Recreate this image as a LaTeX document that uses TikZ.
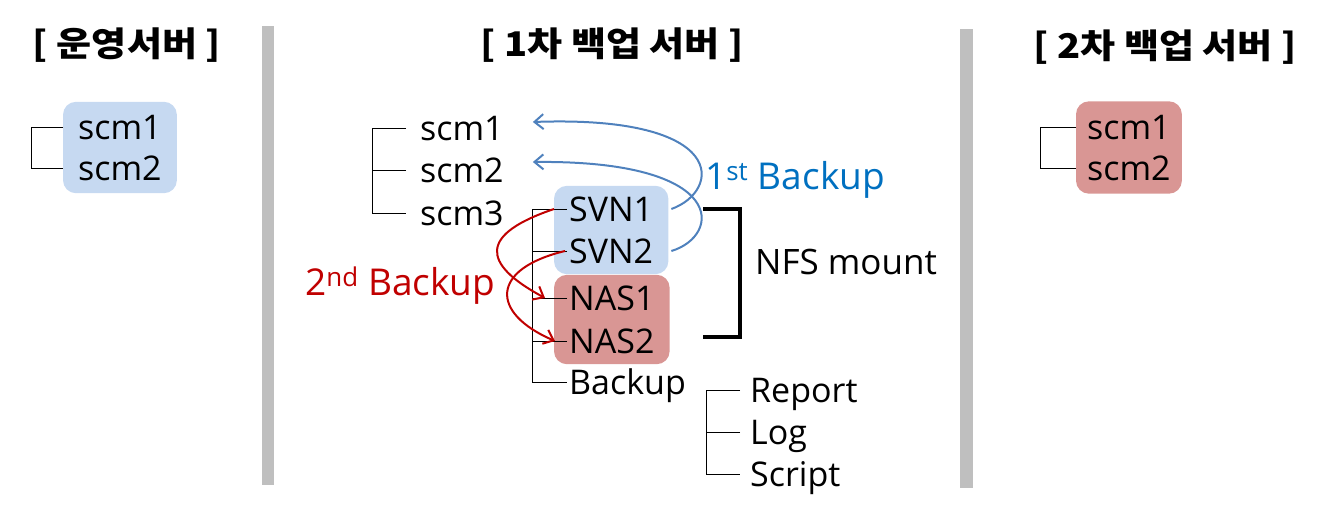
\documentclass[tikz,border=0pt]{standalone}
\usepackage{fontspec}
\setmainfont{Open Sans}
\newfontfamily\kofont[FakeStretch=1.12]{Noto Sans CJK KR}
\usetikzlibrary{arrows.meta,fit,backgrounds}
\definecolor{svnblue}{RGB}{198,217,241}
\definecolor{nasred}{RGB}{217,150,148}
\definecolor{arrowblue}{RGB}{79,129,189}
\definecolor{textblue}{RGB}{0,112,192}
\definecolor{darkred}{RGB}{192,0,0}
\definecolor{bargray}{RGB}{191,191,191}

\begin{document}
\begin{tikzpicture}[x=1pt,y=-1pt,line join=miter,
  hdr/.style={font=\kofont\fontsize{34}{40}\selectfont\bfseries, inner sep=0pt},
  leaf/.style={font=\fontsize{34}{40}\selectfont, anchor=west, inner ysep=0pt, inner xsep=14pt, text height=24pt, text depth=0pt},
  lbl/.style={anchor=west, inner sep=0pt, font=\fontsize{37}{44}\selectfont},
  tree/.style={line width=1pt},
  bluebox/.style={fill=svnblue, rounded corners=13pt, inner xsep=0pt, inner ysep=13pt},
  redbox/.style={fill=nasred, rounded corners=13pt, inner xsep=0pt, inner ysep=13pt},
  bak1/.style={draw=arrowblue, line width=2pt, -{Straight Barb[length=9pt,width=15pt]}},
  bak2/.style={draw=darkred, line width=2pt, -{Straight Barb[length=9pt,width=15pt]}},
  brk/.style={line width=3.5pt}]
\useasboundingbox (0,0) rectangle (1335,515);

% titles
\node[hdr] (hdrA) at (127,45) {[ 운영서버 ]};
\node[hdr] (hdrB) at (612,45) {[ 1차 백업 서버 ]};
\node[hdr] (hdrC) at (1165,47) {[ 2차 백업 서버 ]};

% separators
\fill[bargray] (262,26) rectangle (274,485);
\fill[bargray] (960,29) rectangle (973,488);

% operating server
\node[leaf, inner xsep=15pt] (a1) at (63,127) {scm1};
\node[leaf, inner xsep=15pt] (a2) at (63,168) {scm2};
\coordinate (ta) at ([xshift=-32pt]a1.west);
\draw[tree] (a1.west) -- (ta) |- (a2.west);

% 1st backup server
\node[leaf] (b1) at (406,128) {scm1};
\node[leaf] (b2) at (406,170) {scm2};
\node[leaf] (b3) at (406,213) {scm3};
\coordinate (tb) at ([xshift=-34pt]b1.west);
\draw[tree] (b1.west) -- (tb) |- (b3.west);
\draw[tree] (b2.west) -- (tb |- b2.west);

\node[leaf, inner xsep=2pt] (s1) at (567,209) {SVN1};
\node[leaf, inner xsep=2pt] (s2) at (567,251) {SVN2};
\node[leaf, inner xsep=2pt] (n1) at (567,298) {NAS1};
\node[leaf, inner xsep=2pt] (n2) at (567,341) {NAS2};
\node[leaf, inner xsep=2pt] (bk) at (567,382) {Backup};
\coordinate (tc) at ([xshift=-35pt]s1.west);
\draw[tree] (s1.west) -- (tc) |- (bk.west);
\foreach \n in {s2,n1,n2}
  \draw[tree] (\n.west) -- (tc |- \n.west);

\node[leaf, inner xsep=10pt] (r1) at (740,390) {Report};
\node[leaf, inner xsep=10pt] (r2) at (740,432) {Log};
\node[leaf, inner xsep=10pt] (r3) at (740,474) {Script};
\coordinate (td) at ([xshift=-34pt]r1.west);
\draw[tree] (r1.west) -- (td) |- (r3.west);
\draw[tree] (r2.west) -- (td |- r2.west);

% 2nd backup server
\node[leaf, inner xsep=11pt] (c1) at (1076,127) {scm1};
\node[leaf, inner xsep=11pt] (c2) at (1076,168) {scm2};
\coordinate (te) at ([xshift=-36pt]c1.west);
\draw[tree] (c1.west) -- (te) |- (c2.west);

% boxes
\begin{scope}[on background layer]
\node[bluebox, fit=(a1)(a2)] (opbox) {};
\node[bluebox, inner xsep=13pt, inner ysep=11pt, fit=(s1)(s2)] (svnbox) {};
\node[redbox, inner xsep=13pt, inner ysep=11pt, fit=(n1)(n2)] (nasbox) {};
\node[redbox, inner ysep=13.5pt, fit=(c1)(c2)] (bkbox) {};
\end{scope}

% NFS mount
\coordinate (bt) at (703,209);
\coordinate (bb) at (703,337);
\draw[brk] (bt) -- ++(37,0) |- (bb);
\node[lbl, font=\fontsize{35}{42}\selectfont] (nfs) at (755,262) {NFS mount};

% backup flows
\node[lbl, text=textblue] (first) at (705,180) {1\textsuperscript{st} Backup};
\node[lbl, text=darkred] (second) at (305,286) {2\textsuperscript{nd} Backup};
\draw[bak1] ([xshift=16pt]s1.east) .. controls +(50,-18) and +(197,-7) .. ([xshift=15pt,yshift=6pt]b1.east);
\draw[bak1] ([xshift=16pt]s2.east) .. controls +(50,-15) and +(197,-2) .. ([xshift=15pt,yshift=8pt]b2.east);
\draw[bak2] ([xshift=-13pt]s1.west) .. controls +(-74,25) and +(-65,-35) .. ([xshift=-22pt]n1.west);
\draw[bak2] ([xshift=-2pt]s2.west) .. controls +(-75,18) and +(-65,-28) .. ([xshift=-12pt]n2.west);
\end{tikzpicture}
\end{document}
